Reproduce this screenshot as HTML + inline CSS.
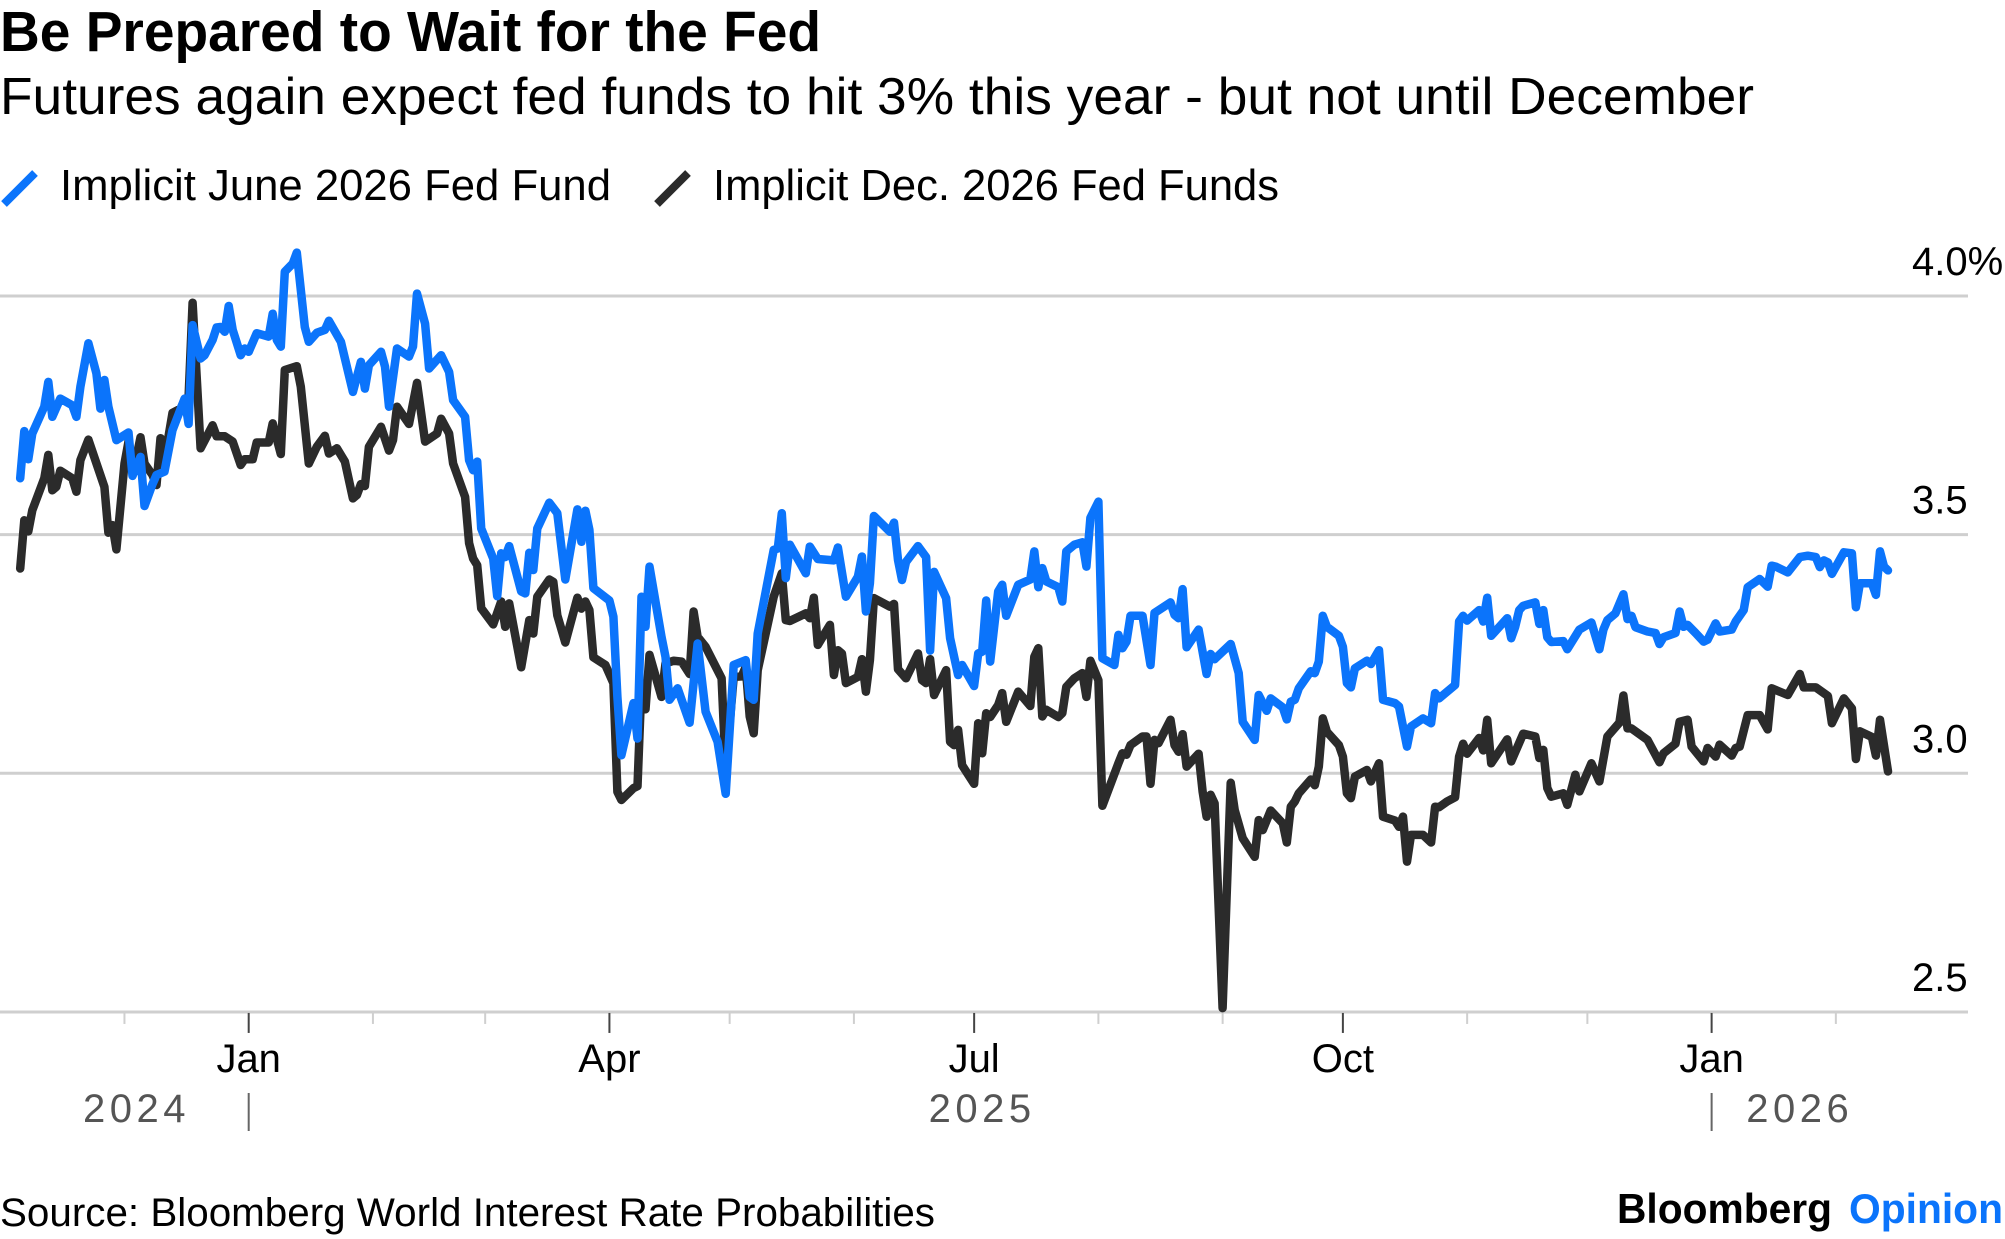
<!DOCTYPE html>
<html lang="en">
<head>
<meta charset="utf-8">
<title>Be Prepared to Wait for the Fed</title>
<style>
html,body{margin:0;padding:0;background:#fff;}
svg{display:block;font-family:"Liberation Sans",Arial,sans-serif;}
</style>
</head>
<body>
<svg id="chart" xmlns="http://www.w3.org/2000/svg" width="2005" height="1239" viewBox="0 0 2005 1239">
  <rect x="0" y="0" width="2005" height="1239" fill="#ffffff"/>
  <text x="0" y="51" font-size="57" font-weight="700" fill="#000" textLength="821" lengthAdjust="spacingAndGlyphs">Be Prepared to Wait for the Fed</text>
  <text x="0" y="114" font-size="52" fill="#000" textLength="1754" lengthAdjust="spacingAndGlyphs">Futures again expect fed funds to hit 3% this year - but not until December</text>

  <g>
    <g>
      <line x1="4" y1="204" x2="35" y2="173" stroke="#0b74fb" stroke-width="8"/>
      <text x="60" y="200" font-size="44" fill="#000" textLength="551" lengthAdjust="spacingAndGlyphs">Implicit June 2026 Fed Fund</text>
    </g>
    <g>
      <line x1="657" y1="204" x2="688" y2="173" stroke="#2b2b2b" stroke-width="8"/>
      <text x="713" y="200" font-size="44" fill="#000" textLength="566" lengthAdjust="spacingAndGlyphs">Implicit Dec. 2026 Fed Funds</text>
    </g>
  </g>

  <g id="grid"></g>
  <g id="yLabels"></g>
  <g id="xTicks"></g>
  <g id="years"></g>
  <g id="series"></g>

  <text x="0" y="1226" font-size="40" fill="#000" textLength="935" lengthAdjust="spacingAndGlyphs">Source: Bloomberg World Interest Rate Probabilities</text>
  <text x="1617" y="1223" font-size="42" font-weight="700" fill="#000" textLength="215" lengthAdjust="spacingAndGlyphs">Bloomberg</text>
  <text x="1849" y="1223" font-size="42" font-weight="700" fill="#0b74fb" textLength="154" lengthAdjust="spacingAndGlyphs">Opinion</text>
</svg>

<script>
// Dates are days since 1 Jan 2025; values are percent.
const juneDays = [-57,-56,-55,-54,-51,-50,-49,-47,-44,-43,-42,-40,-38,-37,-36,-35,-33,-30,-29,-27,-26,-24,-23,-21,-19,-16,-15,-14,-12,-11,-9,-8,-7,-6,-5,-4,-2,-1,0,2,5,6,7,8,9,11,12,14,15,17,19,20,23,26,28,29,30,33,34,35,37,40,41,42,44,45,48,50,51,54,55,56,57,58,61,62,63,64,65,68,69,70,71,72,75,77,79,82,83,84,85,86,90,91,92,93,96,97,98,99,100,103,104,105,107,110,112,114,117,119,121,124,125,126,127,131,132,133,134,135,139,140,142,146,147,149,152,153,154,155,156,160,161,162,163,164,167,169,170,171,174,175,177,178,181,182,183,184,185,187,188,189,192,195,196,197,198,199,202,203,204,206,208,209,210,212,213,216,217,218,219,220,223,225,226,230,231,232,233,234,237,239,240,241,245,247,248,251,252,254,255,258,259,260,261,262,265,266,267,268,269,272,273,274,275,276,279,280,282,283,286,287,289,290,293,295,296,297,301,302,303,304,307,308,309,310,314,315,316,317,318,321,322,323,324,325,328,329,332,335,337,338,339,341,343,344,345,346,349,351,352,353,356,357,358,359,361,363,364,366,367,370,371,373,374,377,379,380,381,384,387,389,391,392,393,394,395,398,400,401,402,405,406,407,408,409];
const juneValues = [3.618,3.717,3.658,3.712,3.768,3.820,3.747,3.785,3.771,3.747,3.810,3.901,3.838,3.764,3.824,3.768,3.698,3.714,3.623,3.663,3.560,3.606,3.625,3.632,3.719,3.785,3.732,3.939,3.869,3.876,3.908,3.934,3.935,3.925,3.979,3.929,3.876,3.890,3.883,3.922,3.915,3.963,3.908,3.894,4.051,4.068,4.091,3.935,3.904,3.923,3.929,3.948,3.904,3.799,3.862,3.806,3.855,3.883,3.852,3.768,3.890,3.873,3.894,4.005,3.942,3.848,3.876,3.841,3.782,3.747,3.656,3.635,3.653,3.513,3.450,3.371,3.461,3.453,3.476,3.381,3.377,3.462,3.426,3.513,3.567,3.545,3.406,3.553,3.485,3.550,3.510,3.388,3.362,3.328,3.160,3.038,3.147,3.073,3.370,3.307,3.433,3.286,3.244,3.154,3.178,3.106,3.272,3.129,3.066,2.957,3.227,3.237,3.160,3.154,3.293,3.468,3.471,3.545,3.409,3.479,3.419,3.475,3.449,3.446,3.473,3.370,3.412,3.454,3.339,3.398,3.539,3.506,3.525,3.447,3.405,3.443,3.476,3.453,3.257,3.422,3.367,3.283,3.206,3.227,3.183,3.251,3.255,3.362,3.234,3.381,3.395,3.330,3.395,3.406,3.465,3.390,3.430,3.402,3.390,3.360,3.465,3.479,3.484,3.433,3.535,3.569,3.241,3.227,3.290,3.262,3.276,3.330,3.330,3.227,3.336,3.358,3.332,3.325,3.386,3.264,3.301,3.208,3.250,3.239,3.271,3.210,3.108,3.070,3.164,3.131,3.157,3.138,3.113,3.150,3.154,3.178,3.214,3.210,3.234,3.330,3.307,3.288,3.265,3.189,3.180,3.220,3.236,3.229,3.258,3.154,3.147,3.140,3.056,3.098,3.115,3.105,3.168,3.157,3.185,3.318,3.330,3.320,3.342,3.318,3.368,3.288,3.325,3.283,3.307,3.342,3.351,3.358,3.313,3.342,3.285,3.275,3.277,3.260,3.301,3.316,3.260,3.301,3.321,3.335,3.375,3.323,3.330,3.306,3.297,3.294,3.271,3.285,3.294,3.339,3.307,3.311,3.294,3.276,3.280,3.314,3.297,3.301,3.318,3.342,3.390,3.407,3.391,3.435,3.433,3.421,3.453,3.456,3.453,3.432,3.446,3.442,3.418,3.463,3.461,3.348,3.398,3.398,3.374,3.465,3.433,3.425];
const decDays = [-57,-56,-55,-54,-51,-50,-49,-48,-47,-44,-43,-42,-40,-36,-35,-34,-33,-31,-30,-29,-28,-27,-26,-24,-23,-22,-21,-19,-17,-16,-15,-14,-12,-9,-8,-6,-4,-2,-1,1,2,5,6,8,9,12,13,15,17,19,20,22,24,26,27,28,29,30,33,35,36,37,40,42,44,47,48,50,51,54,55,56,57,58,61,63,64,65,68,70,71,72,75,76,77,79,82,83,84,85,86,89,91,92,93,96,97,98,99,100,103,104,106,108,110,111,112,114,118,119,121,123,124,125,126,127,129,131,133,134,135,139,140,141,142,145,146,147,148,149,152,153,154,155,156,160,161,162,164,167,168,169,170,171,174,175,176,177,178,181,182,183,184,185,187,188,189,192,195,196,197,198,199,202,203,204,206,208,209,210,212,213,217,218,219,220,223,224,225,226,227,230,231,232,233,234,237,238,239,240,241,243,245,246,248,251,252,253,255,258,259,260,261,262,265,266,267,268,269,272,273,274,275,276,279,280,282,283,286,287,288,289,290,293,295,296,297,299,301,302,303,304,307,308,309,310,314,315,318,321,322,323,324,325,328,329,331,332,335,337,339,342,343,344,345,349,352,353,356,357,359,360,363,364,366,367,370,371,372,374,377,379,380,384,387,388,391,394,395,398,400,401,402,405,406,407,409];
const decValues = [3.429,3.530,3.507,3.551,3.618,3.667,3.593,3.600,3.634,3.618,3.590,3.656,3.699,3.600,3.504,3.520,3.469,3.649,3.695,3.649,3.663,3.704,3.649,3.625,3.604,3.702,3.656,3.755,3.764,3.782,3.789,3.986,3.681,3.729,3.706,3.706,3.695,3.646,3.658,3.658,3.693,3.693,3.733,3.669,3.845,3.853,3.810,3.649,3.684,3.707,3.670,3.681,3.653,3.576,3.583,3.606,3.602,3.684,3.726,3.676,3.698,3.768,3.732,3.818,3.695,3.712,3.743,3.712,3.649,3.579,3.482,3.450,3.436,3.346,3.312,3.360,3.307,3.356,3.222,3.321,3.293,3.370,3.406,3.401,3.331,3.274,3.368,3.345,3.360,3.342,3.243,3.227,3.189,2.961,2.944,2.969,2.973,3.189,3.134,3.248,3.160,3.230,3.236,3.234,3.208,3.339,3.286,3.265,3.199,3.007,3.202,3.203,3.223,3.119,3.084,3.216,3.293,3.370,3.419,3.321,3.319,3.335,3.325,3.368,3.269,3.311,3.206,3.258,3.251,3.189,3.202,3.239,3.171,3.237,3.367,3.349,3.355,3.218,3.199,3.251,3.195,3.189,3.239,3.164,3.216,3.066,3.059,3.091,3.017,2.978,3.105,3.042,3.126,3.118,3.143,3.168,3.108,3.171,3.141,3.244,3.262,3.119,3.133,3.118,3.126,3.181,3.199,3.210,3.160,3.236,3.195,2.932,3.021,3.042,3.039,3.059,3.077,3.077,2.978,3.070,3.063,3.112,3.059,3.045,3.082,3.014,3.041,2.962,2.909,2.955,2.937,2.508,2.980,2.923,2.864,2.825,2.902,2.881,2.922,2.895,2.855,2.930,2.941,2.958,2.987,2.975,3.014,3.115,3.087,3.059,3.035,2.958,2.948,2.993,3.007,2.983,3.021,2.909,2.901,2.888,2.909,2.815,2.871,2.871,2.855,2.930,2.929,2.941,2.950,3.035,3.062,3.041,3.074,3.048,3.112,3.021,3.071,3.025,3.083,3.077,3.032,3.049,2.969,2.951,2.958,2.934,2.997,2.962,3.021,2.983,3.077,3.106,3.163,3.094,3.094,3.070,3.023,3.042,3.062,3.108,3.112,3.056,3.025,3.053,3.035,3.060,3.037,3.053,3.056,3.122,3.122,3.092,3.178,3.164,3.208,3.180,3.180,3.162,3.105,3.157,3.136,3.030,3.088,3.076,3.037,3.112,3.004];
const yTickValues = [4.0,3.5,3.0,2.5];
const yTickLabels = ["4.0%","3.5","3.0","2.5"];
const majorTickDays = [0,90,181,273,365];
const majorTickLabels = ["Jan","Apr","Jul","Oct","Jan"];
const minorTickDays = [-31,31,59,120,151,212,243,304,334,396];
const yearSeparatorDays = [0,365];
const yearLabels = ["2024","2025","2026"];
const yearLabelCenters = [-28,183,387];

const svgNS = "http://www.w3.org/2000/svg";
const X0 = 248.7, PX_PER_DAY = 4.008;
const Y4 = 296, PX_PER_PCT = 477.3;
const xScale = d => X0 + PX_PER_DAY * d;
const yScale = v => Y4 + (4 - v) * PX_PER_PCT;
const AXIS_Y = yScale(2.5);

function make(tag, attrs, parent) {
  const el = document.createElementNS(svgNS, tag);
  for (const k in attrs) el.setAttribute(k, attrs[k]);
  parent.appendChild(el);
  return el;
}

const grid = document.getElementById("grid");
const yLabels = document.getElementById("yLabels");
yTickValues.forEach((v, i) => {
  const ln = make("line", {x1:0, x2:1968, y1:yScale(v), y2:yScale(v), stroke:"#cfcfcf", "stroke-width":3}, grid);
  
  
  const t = make("text", {x:1912, y:yScale(v) - 21, "font-size":40, fill:"#000"}, yLabels);
  t.textContent = yTickLabels[i];
  
  
});

const xTicks = document.getElementById("xTicks");
minorTickDays.forEach(d => {
  const ln = make("line", {x1:xScale(d), x2:xScale(d), y1:AXIS_Y, y2:AXIS_Y + 12, stroke:"#cfcfcf", "stroke-width":2}, xTicks);
  
  
});
majorTickDays.forEach((d, i) => {
  const ln = make("line", {x1:xScale(d), x2:xScale(d), y1:AXIS_Y + 1, y2:AXIS_Y + 21, stroke:"#444", "stroke-width":2}, xTicks);
  
  
  const t = make("text", {x:xScale(d), y:1072, "font-size":40, fill:"#000", "text-anchor":"middle"}, xTicks);
  t.textContent = majorTickLabels[i];
  
  
});

const years = document.getElementById("years");
yearSeparatorDays.forEach(d => {
  const ln = make("line", {x1:xScale(d), x2:xScale(d), y1:1093, y2:1131, stroke:"#666", "stroke-width":2}, years);
  
  
});
yearLabels.forEach((label, i) => {
  const t = make("text", {x:xScale(yearLabelCenters[i]), y:1122, "font-size":40, fill:"#555", "text-anchor":"middle", "letter-spacing":"4.5"}, years);
  t.textContent = label;
  
  
});

const series = document.getElementById("series");
function pointsOf(days, values) {
  return days.map((d, i) => xScale(d).toFixed(1) + "," + yScale(values[i]).toFixed(1)).join(" ");
}
const lineStyle = {fill:"none", "stroke-width":8.5, "stroke-linejoin":"round", "stroke-linecap":"round"};
const decLine = make("polyline", Object.assign({points:pointsOf(decDays, decValues), stroke:"#2b2b2b"}, lineStyle), series);


const juneLine = make("polyline", Object.assign({points:pointsOf(juneDays, juneValues), stroke:"#0b74fb"}, lineStyle), series);


</script>
</body>
</html>
